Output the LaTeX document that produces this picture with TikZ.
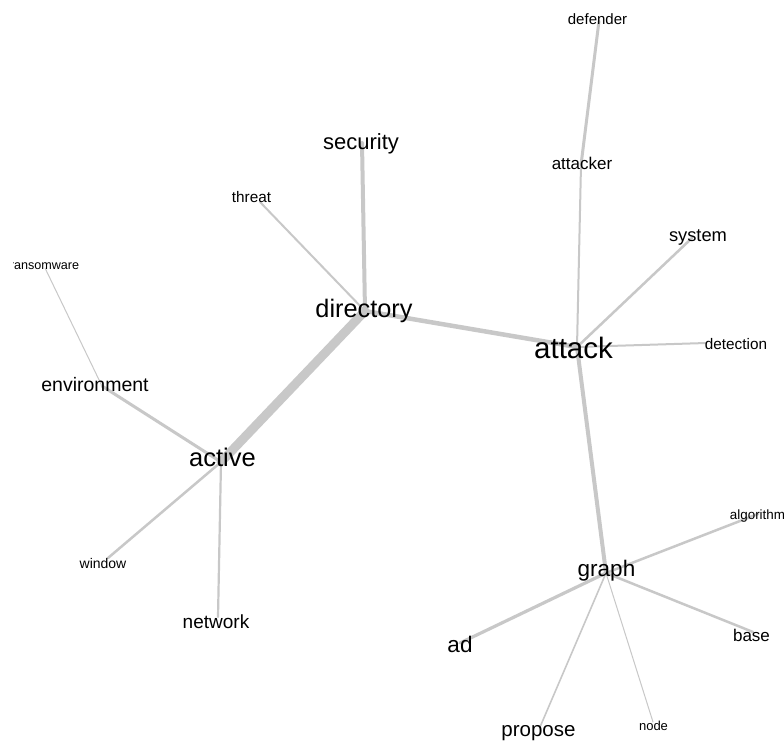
\documentclass[tikz,border=0pt]{standalone}
\usepackage{fontspec}
\setmainfont{Liberation Sans}
\definecolor{edgecol}{RGB}{200,200,200}
\definecolor{txtcol}{RGB}{0,0,0}
\tikzset{
 lbl/.style={inner sep=0pt, anchor=base, text=txtcol},
 edge/.style={draw=edgecol, line cap=round},
}
\newcommand{\fsz}[1]{\fontsize{#1}{#1}\selectfont}
\begin{document}
\begin{tikzpicture}[x=1pt,y=-1pt]
\useasboundingbox (0,0) rectangle (784,740);
\fill[white] (0,0) rectangle (784,740);
\begin{scope}
\clip (13,0) rectangle (784,740);
% vertices
\coordinate (v-defender) at (599,21);
\coordinate (v-attacker) at (581,165);
\coordinate (v-attack) at (577,347);
\coordinate (v-system) at (692,238);
\coordinate (v-detection) at (706,343);
\coordinate (v-security) at (362,143);
\coordinate (v-threat) at (260,202);
\coordinate (v-directory) at (365,311);
\coordinate (v-ransomware) at (45,268);
\coordinate (v-environment) at (102,386);
\coordinate (v-active) at (221,462);
\coordinate (v-window) at (108,558);
\coordinate (v-network) at (218,617);
\coordinate (v-graph) at (606,573);
\coordinate (v-algorithm) at (758,514);
\coordinate (v-base) at (753,632);
\coordinate (v-ad) at (460,643);
\coordinate (v-propose) at (540,727);
\coordinate (v-node) at (653,722);
% edges
\draw[edge, line width=9pt] (v-active) -- (v-directory);
\draw[edge, line width=4.5pt] (v-directory) -- (v-attack);
\draw[edge, line width=4pt] (v-attack) -- (v-graph);
\draw[edge, line width=4pt] (v-directory) -- (v-security);
\draw[edge, line width=3pt] (v-defender) -- (v-attacker);
\draw[edge, line width=2pt] (v-attacker) -- (v-attack);
\draw[edge, line width=2.5pt] (v-attack) -- (v-system);
\draw[edge, line width=2pt] (v-attack) -- (v-detection);
\draw[edge, line width=2pt] (v-directory) -- (v-threat);
\draw[edge, line width=3pt] (v-environment) -- (v-active);
\draw[edge, line width=1pt] (v-environment) -- (v-ransomware);
\draw[edge, line width=2.5pt] (v-active) -- (v-window);
\draw[edge, line width=2.2pt] (v-active) -- (v-network);
\draw[edge, line width=3.2pt] (v-graph) -- (v-ad);
\draw[edge, line width=2.5pt] (v-graph) -- (v-algorithm);
\draw[edge, line width=2.5pt] (v-graph) -- (v-base);
\draw[edge, line width=1.6pt] (v-graph) -- (v-propose);
\draw[edge, line width=1pt] (v-graph) -- (v-node);
% labels
\node[lbl, font=\fsz{15}] (t-defender) at (597.5,24) {defender};
\node[lbl, font=\fsz{17}] (t-attacker) at (582,169) {attacker};
\node[lbl, font=\fsz{18.3}] (t-system) at (698,241) {system};
\node[lbl, font=\fsz{15.3}] (t-detection) at (736,349) {detection};
\node[lbl, font=\fsz{29.5}] (t-attack) at (573.5,358) {attack};
\node[lbl, font=\fsz{22}] (t-security) at (361,149) {security};
\node[lbl, font=\fsz{15.3}] (t-threat) at (251.5,202) {threat};
\node[lbl, font=\fsz{25.3}] (t-directory) at (364,317) {directory};
\node[lbl, font=\fsz{12.6}] (t-ransomware) at (44.5,269) {ransomware};
\node[lbl, font=\fsz{19.5}] (t-environment) at (95,391) {environment};
\node[lbl, font=\fsz{25.5}] (t-active) at (222.5,466) {active};
\node[lbl, font=\fsz{14}] (t-window) at (103,568) {window};
\node[lbl, font=\fsz{19}] (t-network) at (216,628) {network};
\node[lbl, font=\fsz{22.5}] (t-graph) at (606.5,576) {graph};
\node[lbl, font=\fsz{13.4}] (t-algorithm) at (757.5,519) {algorithm};
\node[lbl, font=\fsz{17}] (t-base) at (751.5,641) {base};
\node[lbl, font=\fsz{22.5}] (t-ad) at (460,652) {ad};
\node[lbl, font=\fsz{20.5}] (t-propose) at (538.5,736) {propose};
\node[lbl, font=\fsz{13}] (t-node) at (653.5,730) {node};
\end{scope}
\end{tikzpicture}
\end{document}
